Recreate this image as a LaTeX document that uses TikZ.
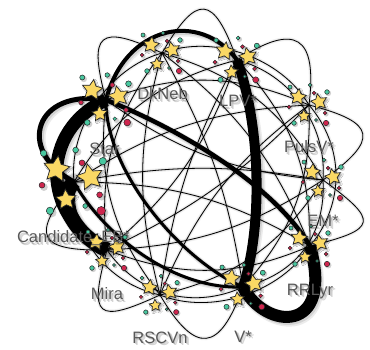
\documentclass[tikz,border=0pt]{standalone}
\usepackage{fontspec}
\setmainfont{Liberation Sans}
\usetikzlibrary{shapes.geometric,shadows.blur}
\definecolor{staryel}{RGB}{250,216,100}
\definecolor{dotteal}{RGB}{72,200,160}
\definecolor{dotred}{RGB}{206,38,78}
\definecolor{labgray}{RGB}{88,88,88}
\newcommand\EdgeList{%
  \E{dkneb}{lpv}{n1}{0.8}\E{lpv}{puls}{n1}{0.8}\E{puls}{em}{n1}{0.8}\E{em}{rr}{n1}{0.8}
  \E{vstar}{rscvn}{n1}{0.8}\E{rscvn}{mira}{n1}{0.8}\E{mira}{cand}{n1}{0.8}\E{star}{dkneb}{n1}{0.8}
  \E{dkneb}{puls}{n2}{0.8}\E{lpv}{em}{n2}{0.8}\E{puls}{rr}{n2}{0.8}\E{em}{vstar}{n2}{0.8}
  \E{rr}{rscvn}{n2}{0.8}\E{vstar}{mira}{n2}{0.8}\E{rscvn}{cand}{n2}{0.8}\E{cand}{dkneb}{n2}{0.8}
  \E{dkneb}{em}{n3}{0.8}\E{lpv}{rr}{n3}{0.8}\E{puls}{vstar}{n3}{0.8}\E{em}{rscvn}{n3}{0.8}
  \E{rr}{mira}{n3}{0.8}\E{rscvn}{star}{n3}{0.8}\E{mira}{dkneb}{n3}{0.8}
  \E{cand}{lpv}{n3}{0.8}\E{star}{puls}{n3}{0.8}
  \E{dkneb}{rr}{n4}{0.8}\E{puls}{rscvn}{n4r}{0.8}\E{em}{mira}{n4}{0.8}\E{rr}{cand}{n4r}{0.8}
  \E{rscvn}{dkneb}{n4}{0.8}\E{mira}{lpv}{n4r}{0.8}\E{cand}{puls}{n4}{0.8}\E{star}{em}{n4r}{0.8}
  \E{dkneb}{vstar}{n5}{0.8}\E{lpv}{rscvn}{n5r}{0.8}\E{puls}{mira}{n5}{0.8}\E{em}{cand}{n5r}{0.8}%
}
\newcommand\ThickList{%
  \C{star}{mira}{40,130}{40,215}{13}
  \C{cand}{mira}{55,200}{75,235}{15}
  \C{star}{cand}{35,88}{15,150}{5}
  \C{lpv}{vstar}{262,130}{262,230}{10}
  \C{vstar}{rr}{265,330}{335,335}{12}
  \C{star}{lpv}{125,25}{200,10}{4}
  \C{star}{rr}{170,125}{270,180}{4.5}
  \C{star}{vstar}{105,170}{180,260}{3}
  \C{cand}{vstar}{100,230}{170,290}{3}%
}
\newcommand\cluster[2]{%
  \begin{scope}[shift={(#1)},scale=#2]
    \foreach \px/\py/\pr/\pc in {-19/-18/2/dotteal, 1/-20/1.8/dotteal, 5/-12/1.8/dotred, 18/-13/2.3/dotteal, -20/2/1.8/dotred, 16/8/1.8/dotred, -15/18/2.3/dotteal, 7/15/1.5/dotteal, 17/18/2.7/dotred}{
      \fill[black,opacity=.18] (\px+1.2,\py+1.2) circle[radius=\pr+0.6];
      \filldraw[fill=\pc,draw=black!85,line width=.5pt] (\px,\py) circle[radius=\pr];
    }
    \node[starnode,minimum size=#2*17pt,rotate=-8] (#1-a) at (-11,-8) {};
    \node[starnode,minimum size=#2*17pt,rotate=12] (#1-b) at (10,-3) {};
    \node[starnode,minimum size=#2*13pt,rotate=4] (#1-c) at (-5,11) {};
  \end{scope}}
\begin{document}
\begin{tikzpicture}[x=1pt,y=-1pt,
  n1/.style={bend left=65,distance=70},
  n2/.style={bend left=40,distance=55},
  n3/.style={bend left=22},
  n4/.style={bend left=15}, n4r/.style={bend right=15},
  n5/.style={bend left=10}, n5r/.style={bend right=10},
  starnode/.style={star,star points=5,star point ratio=2.0,fill=staryel,draw=black!85,line width=.7pt,inner sep=0pt,
    blur shadow={shadow xshift=1.5pt,shadow yshift=-1.5pt,shadow blur radius=1.5pt,shadow blur steps=4,shadow opacity=40}},
  lab/.style={font=\fontsize{16.5}{19}\selectfont,text=labgray,inner sep=0pt,anchor=base},
  labsh/.style={lab,text=black,opacity=.16}]
\fill[white] (0,0) rectangle (370,350);
\useasboundingbox (0,0) rectangle (370,350);
\coordinate (dkneb) at (162,53);
\coordinate (lpv) at (237,60);
\coordinate (puls) at (309,105);
\coordinate (em) at (323,180);
\coordinate (rr) at (310,246);
\coordinate (vstar) at (243,287);
\coordinate (rscvn) at (160,295);
\coordinate (mira) at (107,250);
\coordinate (cand) at (74,182);
\coordinate (star) at (106,100);
% shadows of connectors
\begin{scope}[shift={(3,3)}]
  \def\E#1#2#3#4{\draw[black,opacity=.06,line width=#4pt+3pt,line cap=round] (#1) to[#3] (#2);}
  \def\C#1#2#3#4#5{\draw[black,opacity=.08,line width=#5pt+3pt,line cap=round] (#1) .. controls (#3) and (#4) .. (#2);}
  \EdgeList \ThickList
\end{scope}
\begin{scope}[shift={(2,2)}]
  \def\E#1#2#3#4{\draw[black,opacity=.08,line width=#4pt+1pt,line cap=round] (#1) to[#3] (#2);}
  \def\C#1#2#3#4#5{\draw[black,opacity=.1,line width=#5pt+1pt,line cap=round] (#1) .. controls (#3) and (#4) .. (#2);}
  \EdgeList \ThickList
\end{scope}
% connectors
\begin{scope}
  \def\E#1#2#3#4{\draw[black,line width=#4pt] (#1) to[#3] (#2);}
  \def\C#1#2#3#4#5{\draw[black,line width=#5pt] (#1) .. controls (#3) and (#4) .. (#2);}
  \EdgeList \ThickList
\end{scope}
% clusters
\cluster{dkneb}{1.0}
\cluster{lpv}{1.1}
\cluster{puls}{1.0}
\cluster{em}{1.0}
\cluster{rr}{1.0}
\cluster{vstar}{1.1}
\cluster{rscvn}{0.95}
\cluster{mira}{1.0}
\cluster{cand}{1.6}
\cluster{star}{1.25}
% labels with soft shadows
\foreach \nm/\tx/\lx/\ly in {dkneb/DkNeb/162.5/100, lpv/LPV*/238/107, puls/PulsV*/309/153, em/EM*/323/227, rr/RRLyr/310/295, vstar/V*/243/342, rscvn/RSCVn/160/343, mira/Mira/107/300, cand/Candidate\_EB*/73.5/243, star/Star/104.5/155}{
  \node[labsh] (sh1-\nm) at (\lx+2.5,\ly+2.5) {\tx};
  \node[labsh] (sh2-\nm) at (\lx+1.2,\ly+1.2) {\tx};
  \node[lab] (lab-\nm) at (\lx,\ly) {\tx};
}
\end{tikzpicture}
\end{document}
